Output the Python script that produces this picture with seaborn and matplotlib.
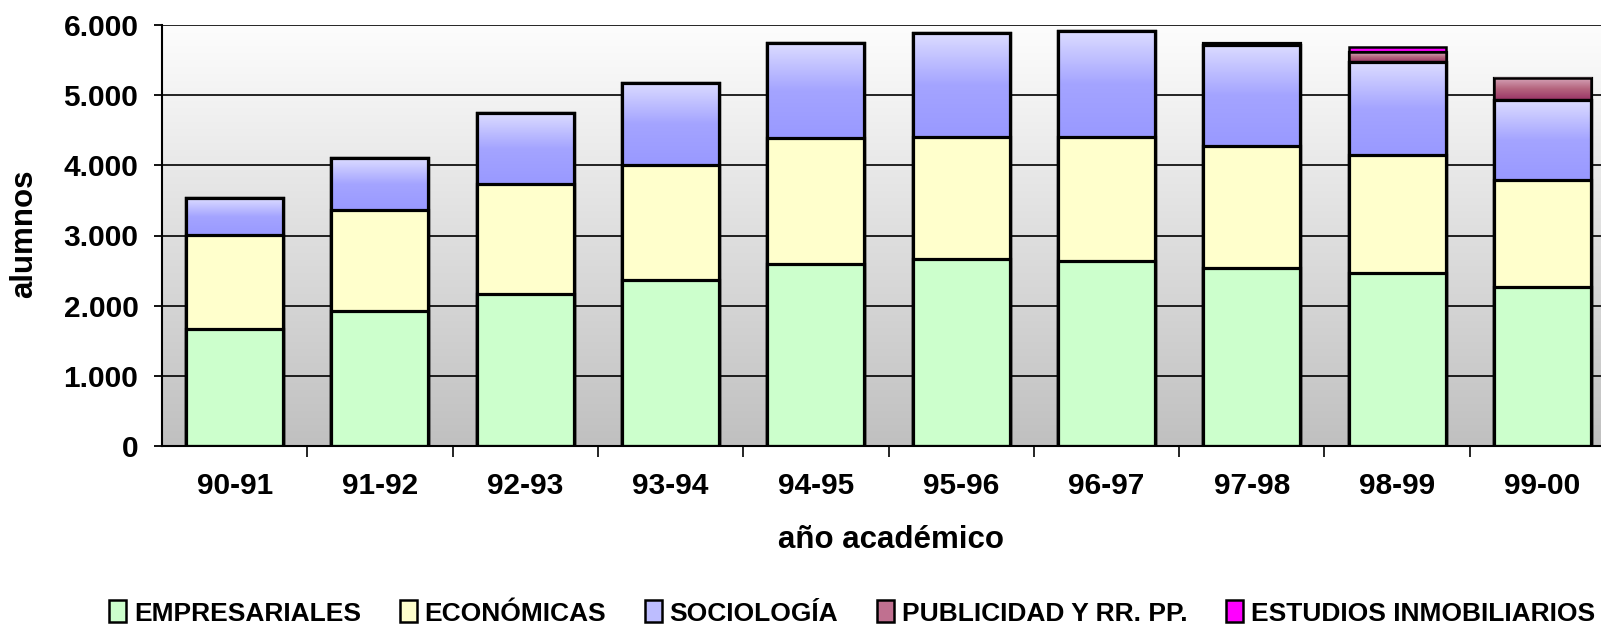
import numpy as np
import pandas as pd
import matplotlib
matplotlib.use("Agg")
import matplotlib.pyplot as plt
import seaborn as sns
from matplotlib.colors import LinearSegmentedColormap
from matplotlib.patches import Patch
from matplotlib.ticker import FuncFormatter, FixedLocator

# ---------------- data ----------------
years = ["90-91", "91-92", "92-93", "93-94", "94-95", "95-96", "96-97", "97-98", "98-99", "99-00"]
empresariales = [1670, 1920, 2170, 2370, 2600, 2660, 2630, 2530, 2460, 2260]
economicas = [1340, 1450, 1570, 1630, 1790, 1750, 1770, 1750, 1690, 1530]
sociologia = [520, 730, 1000, 1180, 1350, 1480, 1510, 1440, 1320, 1140]
publicidad = [0, 0, 0, 0, 0, 0, 0, 20, 140, 320]
inmobiliarios = [0, 0, 0, 0, 0, 0, 0, 0, 70, 0]
series_names = ["EMPRESARIALES", "ECONÓMICAS", "SOCIOLOGÍA", "PUBLICIDAD Y RR. PP.", "ESTUDIOS INMOBILIARIOS"]
y_ticks = [0, 1000, 2000, 3000, 4000, 5000, 6000]
y_label = "alumnos"
x_label = "año académico"

# ---------------- style ----------------
sns.set_theme(style="white")
plt.rcParams['font.family'] = ['Liberation Sans', 'DejaVu Sans']
plt.rcParams['font.weight'] = 'bold'
plt.rcParams['text.color'] = 'black'

base_colors = ['#CCFFCC', '#FFFFCC', '#B4B4FF', '#B9607F', '#FF00FF']
legend_colors = ['#CCFFCC', '#FFFFCC', '#BDBDFF', '#C07090', '#FF00FF']
gradients = {2: LinearSegmentedColormap.from_list('soc', ['#9999FF', '#A4A4FF', '#DCDCFF']),
             3: LinearSegmentedColormap.from_list('pub', ['#993366', '#B5667F', '#D8A8BC'])}
W = 0.668
LW = 2.3

fig = plt.figure(figsize=(16.01, 6.30), dpi=100)
fig.patch.set_facecolor('white')
ax = fig.add_axes([162 / 1601, 184 / 630, 1439 / 1601, 421 / 630])

# plot area gradient background
bg = np.linspace(0, 1, 256).reshape(-1, 1)
bg_cmap = LinearSegmentedColormap.from_list('bg', ['#C0C0C0', '#FDFDFD'])
ax.imshow(bg, extent=(0, 1, 0, 1), transform=ax.transAxes, cmap=bg_cmap, aspect='auto',
          origin='lower', zorder=0.2, interpolation='bilinear')

layers = np.array([empresariales, economicas, sociologia, publicidad, inmobiliarios], dtype=float)
cum = np.cumsum(layers, axis=0)
grad = np.linspace(0, 1, 128).reshape(-1, 1)

for i in range(len(layers) - 1, -1, -1):
    df = pd.DataFrame({'year': years, 'v': cum[i]})
    n0 = len(ax.patches)
    lw_i = 1.8 if i == 4 else LW
    sns.barplot(data=df, x='year', y='v', order=years, color=base_colors[i], saturation=1,
                width=W, edgecolor='black', linewidth=lw_i, errorbar=None, ax=ax)
    if i in gradients:
        new = ax.patches[n0:]
        for p in new:
            j = int(round(p.get_x() + p.get_width() / 2))
            if layers[i][j] <= 0:
                continue
            ax.imshow(grad, extent=(p.get_x(), p.get_x() + p.get_width(), cum[i - 1][j], cum[i][j]),
                      cmap=gradients[i], aspect='auto', origin='lower', zorder=1,
                      interpolation='bilinear')
        sns.barplot(data=df, x='year', y='v', order=years, color='black', fill=False,
                    width=W, linewidth=LW if i == 2 else 1.8, errorbar=None, ax=ax)

# ---------------- axes ----------------
ax.set_xlim(-0.5, 9.5 - 14 / 145.2)
ax.set_ylim(0, 6000)
ax.set_yticks(y_ticks)
ax.yaxis.set_major_formatter(FuncFormatter(lambda v, _: f"{int(v):,}".replace(",", ".")))
ax.set_xticks(range(len(years)))
ax.set_xticklabels(years)
ax.xaxis.set_minor_locator(FixedLocator(np.arange(0.5, len(years) - 0.5, 1)))
ax.set_xlabel("")
ax.set_ylabel("")

ax.tick_params(axis='y', left=True, length=6, width=1.3, color='black', pad=11,
               labelsize=21.5, direction='out', labelcolor='black')
ax.tick_params(axis='x', which='major', bottom=False, length=0, pad=19, labelsize=21.5,
               labelcolor='black')
ax.tick_params(axis='x', which='minor', bottom=True, length=8, width=1.2, color='black',
               direction='out')

ax.yaxis.grid(True, color='black', linewidth=1.2)
ax.xaxis.grid(False)
ax.set_axisbelow(True)

for s in ['top', 'right']:
    ax.spines[s].set_visible(False)
for s in ['left', 'bottom']:
    ax.spines[s].set_color('black')
    ax.spines[s].set_linewidth(1.5)

fig.text(24.5 / 1601, 1 - 234 / 630, y_label, rotation=90, ha='center', va='center',
         fontsize=22.5, fontweight='bold', color='black')
fig.text(891 / 1601, 1 - 540 / 630, x_label, ha='center', va='center', fontsize=22.5,
         fontweight='bold', color='black',
         bbox=dict(facecolor='white', edgecolor='none', pad=6))

handles = [Patch(facecolor=c, edgecolor='black', linewidth=1.8) for c in legend_colors]
fig.legend(handles, series_names, loc='center', bbox_to_anchor=(852 / 1601, 1 - 613 / 630),
           ncol=5, frameon=False, prop={'weight': 'bold', 'size': 19}, labelcolor='black',
           handlelength=0.65, handleheight=0.9, handletextpad=0.3, columnspacing=1.45,
           borderaxespad=0, borderpad=0)

fig.savefig("out.png", dpi=100, facecolor='white')
